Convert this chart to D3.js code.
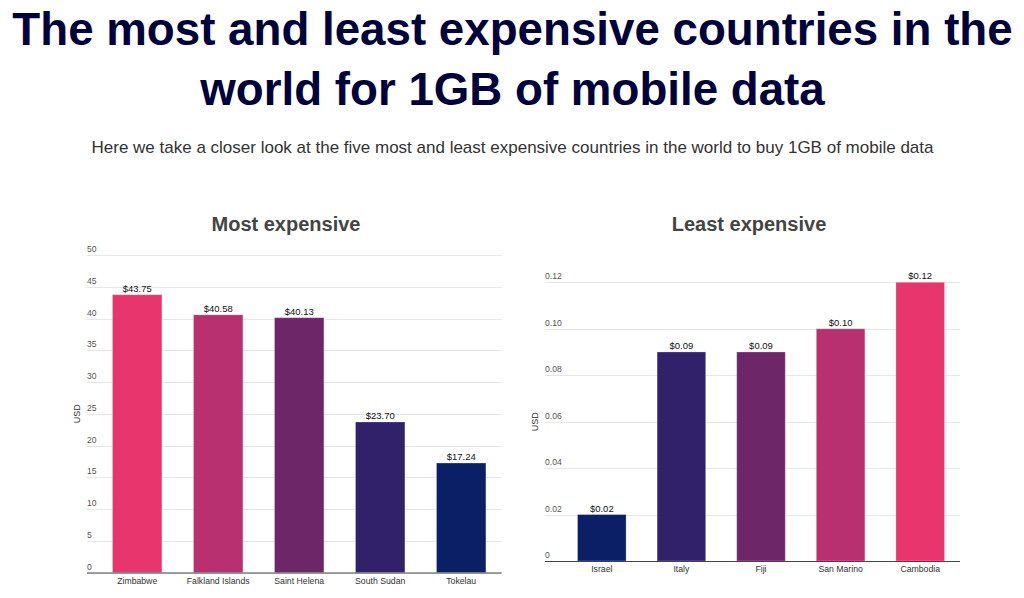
<!doctype html>
<html>
<head>
<meta charset="utf-8">
<title>1GB mobile data prices</title>
<script src="https://cdnjs.cloudflare.com/ajax/libs/d3/7.8.5/d3.min.js"></script>
<style>
  body { margin: 0; background: #fff; font-family: "Liberation Sans", Arial, sans-serif; }
  .grid line { stroke: #e6e6e6; stroke-width: 1; }
  .tick-lbl { font-size: 8.6px; fill: #555; }
  .cat-lbl { font-size: 8.7px; fill: #333; text-anchor: middle; }
  .val-lbl { font-size: 9.5px; fill: #111; text-anchor: middle; }
  .chart-title { font-size: 20px; font-weight: bold; fill: #444; text-anchor: middle; }
</style>
</head>
<body>
<svg id="chart" width="1024" height="598"></svg>
<script>
// most expensive
var mostCountries = ["Zimbabwe", "Falkland Islands", "Saint Helena", "South Sudan", "Tokelau"];
var mostPrices = [43.75, 40.58, 40.13, 23.70, 17.24];
var mostTicks = [0, 5, 10, 15, 20, 25, 30, 35, 40, 45, 50];

// least expensive
var leastCountries = ["Israel", "Italy", "Fiji", "San Marino", "Cambodia"];
var leastPrices = [0.02, 0.09, 0.09, 0.10, 0.12];
var leastTicks = [0, 0.02, 0.04, 0.06, 0.08, 0.10, 0.12];

var mostColors = ["#e8356e", "#b83070", "#6d2769", "#31216b", "#0b1f66"];
var leastColors = ["#0b1f66", "#31216b", "#6d2769", "#b83070", "#e8356e"];

var svg = d3.select("#chart");

// page title
svg.append("text").attr("x", 512.5).attr("y", 45).attr("text-anchor", "middle")
  .style("font-size", "45.7px").style("font-weight", "bold").style("fill", "#00003a")
  .text("The most and least expensive countries in the");
svg.append("text").attr("x", 512.5).attr("y", 105).attr("text-anchor", "middle")
  .style("font-size", "45.7px").style("font-weight", "bold").style("fill", "#00003a")
  .text("world for 1GB of mobile data");
svg.append("text").attr("x", 512.5).attr("y", 152.5).attr("text-anchor", "middle")
  .style("font-size", "17px").style("fill", "#333")
  .text("Here we take a closer look at the five most and least expensive countries in the world to buy 1GB of mobile data");

function drawChart(opts) {
  var g = svg.append("g");
  var y = d3.scaleLinear().domain(opts.domain).range([opts.bottom, opts.top]);
  var x = d3.scaleBand().domain(opts.cats).range([opts.bandLeft, opts.right]).paddingInner(0.39).paddingOuter(0.195);

  g.append("text").attr("class", "chart-title").attr("x", opts.titleX).attr("y", 230.5).text(opts.title);

  var grid = g.append("g").attr("class", "grid");
  grid.selectAll("line").data(opts.ticks).enter().append("line")
    .attr("x1", opts.left).attr("x2", opts.right)
    .attr("y1", d => Math.round(y(d)) + 0.5).attr("y2", d => Math.round(y(d)) + 0.5);

  g.selectAll(".tick-lbl").data(opts.ticks).enter().append("text")
    .attr("class", "tick-lbl")
    .attr("x", opts.left).attr("y", d => y(d) - 3)
    .text(opts.tickFmt);

  g.selectAll("rect").data(opts.values).enter().append("rect")
    .attr("x", (d, i) => x(opts.cats[i]))
    .attr("width", x.bandwidth())
    .attr("y", d => y(d))
    .attr("height", d => y(0) - y(d))
    .attr("fill", (d, i) => opts.colors[i])
    .attr("stroke", "#fff").attr("stroke-opacity", 0.25);

  g.selectAll(".val-lbl").data(opts.values).enter().append("text")
    .attr("class", "val-lbl")
    .attr("x", (d, i) => x(opts.cats[i]) + x.bandwidth() / 2)
    .attr("y", d => y(d) - 3)
    .text(d => "$" + d.toFixed(2));

  g.append("line").attr("x1", opts.left).attr("x2", opts.right)
    .attr("y1", y(0) + 0.5).attr("y2", y(0) + 0.5)
    .attr("stroke", "#444").attr("stroke-width", 1);

  g.selectAll(".cat-lbl").data(opts.cats).enter().append("text")
    .attr("class", "cat-lbl")
    .attr("x", d => x(d) + x.bandwidth() / 2)
    .attr("y", y(0) + 11)
    .text(d => d);

  g.append("text")
    .attr("transform", "translate(" + opts.usdX + "," + ((opts.top + opts.bottom) / 2) + ") rotate(-90)")
    .attr("text-anchor", "middle").style("font-size", "9px").style("fill", "#333")
    .text("USD");
}

drawChart({
  title: "Most expensive", titleX: 286,
  cats: mostCountries, values: mostPrices, colors: mostColors, ticks: mostTicks,
  domain: [0, 50], top: 255, bottom: 572.5,
  left: 87, bandLeft: 96.7, right: 501.7, usdX: 80,
  tickFmt: d => d
});

drawChart({
  title: "Least expensive", titleX: 749,
  cats: leastCountries, values: leastPrices, colors: leastColors, ticks: leastTicks,
  domain: [0, 0.12], top: 282.3, bottom: 561,
  left: 545, bandLeft: 562, right: 960, usdX: 538,
  tickFmt: d => d === 0 ? "0" : d.toFixed(2)
});
</script>
</body>
</html>
